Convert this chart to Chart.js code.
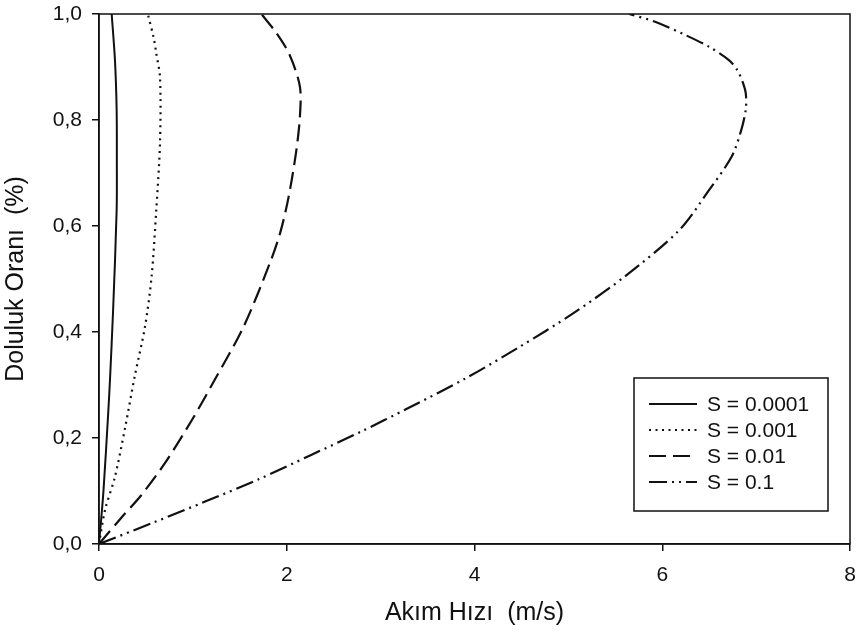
<!DOCTYPE html>
<html>
<head>
<meta charset="utf-8">
<script src="https://cdn.jsdelivr.net/npm/chart.js@4.4.0/dist/chart.umd.min.js"></script>
<style>
  body { margin: 0; background: #fff; }
  #wrap { width: 864px; height: 634px; position: relative; }
</style>
</head>
<body>
<div id="wrap"><canvas id="myChart" width="864" height="634"></canvas></div>
<script>
// values (x = velocity m/s, y = fill ratio)
const labels = ["S = 0.0001", "S = 0.001", "S = 0.01", "S = 0.1"];

const speedA = [0, 0.046, 0.10, 0.117, 0.15, 0.188, 0.19, 0.188, 0.17, 0.135];
const fillA  = [0, 0.096, 0.253, 0.31, 0.44, 0.63, 0.72, 0.819, 0.913, 1.0];

const speedB = [0, 0.064, 0.17, 0.28, 0.38, 0.49, 0.56, 0.61, 0.65, 0.65, 0.61, 0.58, 0.52];
const fillB  = [0, 0.064, 0.127, 0.221, 0.316, 0.41, 0.504, 0.63, 0.757, 0.88, 0.926, 0.957, 1.0];

const speedC = [0, 0.24, 0.45, 0.70, 0.99, 1.23, 1.54, 1.82, 1.93, 2.02, 2.10, 2.14, 2.14, 2.03, 1.89, 1.73];
const fillC  = [0, 0.05, 0.092, 0.152, 0.234, 0.309, 0.41, 0.53, 0.587, 0.655, 0.74, 0.806, 0.863, 0.923, 0.964, 1.0];

const speedD = [0, 0.56, 1.13, 1.70, 2.26, 2.79, 3.29, 3.91, 4.48, 5.05, 5.61, 6.18, 6.5, 6.74, 6.84, 6.89, 6.89, 6.86, 6.8, 6.71, 6.5, 6.25, 5.93, 5.65];
const fillD  = [0, 0.039, 0.08, 0.122, 0.168, 0.212, 0.256, 0.313, 0.372, 0.435, 0.506, 0.592, 0.668, 0.731, 0.78, 0.82, 0.85, 0.87, 0.894, 0.913, 0.938, 0.96, 0.985, 1.0];

const xTicks = [0, 2, 4, 6, 8];
const yTicks = [0, 0.2, 0.4, 0.6, 0.8, 1.0];

const pts = (xs, ys) => xs.map((v, i) => ({ x: v, y: ys[i] }));

const FONT = "'Liberation Sans', Arial, sans-serif";

// frame + legend box drawn inside the plot
const framePlugin = {
  id: 'frame',
  afterDraw(chart) {
    const { ctx, chartArea: a } = chart;
    ctx.save();
    ctx.strokeStyle = '#111';
    ctx.lineWidth = 1.5;
    ctx.strokeRect(a.left, a.top, a.right - a.left, a.bottom - a.top);

    // legend
    const bx = 634, by = 378, bw = 194, bh = 133;
    ctx.fillStyle = '#fff';
    ctx.fillRect(bx, by, bw, bh);
    ctx.strokeRect(bx, by, bw, bh);
    ctx.font = '21px ' + FONT;
    ctx.textBaseline = 'middle';
    chart.data.datasets.forEach((ds, i) => {
      const y = 404 + i * 26;
      ctx.beginPath();
      ctx.setLineDash(ds.borderDash || []);
      ctx.lineWidth = ds.borderWidth;
      ctx.moveTo(649, y);
      ctx.lineTo(697, y);
      ctx.stroke();
      ctx.setLineDash([]);
      ctx.fillStyle = '#111';
      ctx.fillText(ds.label, 707, y + 1);
    });
    ctx.restore();
  }
};

const ctx = document.getElementById('myChart').getContext('2d');
const myChart = new Chart(ctx, {
  type: 'scatter',
  data: {
    datasets: [
      { label: labels[0], data: pts(speedA, fillA), borderDash: [], borderWidth: 2 },
      { label: labels[1], data: pts(speedB, fillB), borderDash: [2, 4.5], borderWidth: 2.2 },
      { label: labels[2], data: pts(speedC, fillC), borderDash: [17, 7], borderWidth: 2.2 },
      { label: labels[3], data: pts(speedD, fillD), borderDash: [18, 5, 2, 5, 2, 5], borderWidth: 2.2 },
    ].map(d => Object.assign(d, {
      showLine: true,
      borderColor: '#111',
      backgroundColor: '#111',
      pointRadius: 0,
      tension: 0.3,
      fill: false,
    }))
  },
  options: {
    responsive: false,
    animation: false,
    layout: { padding: { top: 14, right: 14, left: 0, bottom: 0 } },
    plugins: {
      legend: { display: false },
      tooltip: { enabled: false },
    },
    scales: {
      x: {
        type: 'linear',
        min: 0, max: 8,
        afterBuildTicks: s => { s.ticks = xTicks.map(v => ({ value: v })); },
        afterFit: s => { s.height = 90; s.paddingLeft = 0; s.paddingRight = 0; },
        grid: { drawOnChartArea: false, color: '#111', tickLength: 7, lineWidth: 1.5 },
        border: { color: '#111', width: 1.5 },
        ticks: { color: '#111', padding: 12, font: { family: FONT, size: 21 }, maxRotation: 0 },
        title: {
          display: true, text: 'Akım Hızı  (m/s)', color: '#111',
          font: { family: FONT, size: 25 }, padding: { top: 4, bottom: 6 }
        }
      },
      y: {
        type: 'linear',
        min: 0, max: 1,
        afterBuildTicks: s => { s.ticks = yTicks.map(v => ({ value: v })); },
        afterFit: s => { s.width = 99; s.paddingTop = 0; s.paddingBottom = 0; },
        grid: { drawOnChartArea: false, color: '#111', tickLength: 7, lineWidth: 1.5 },
        border: { color: '#111', width: 1.5 },
        ticks: {
          color: '#111', padding: 10, font: { family: FONT, size: 21 },
          callback: v => v.toFixed(1).replace('.', ',')
        },
        title: {
          display: true, text: 'Doluluk Oranı  (%)', color: '#111',
          font: { family: FONT, size: 25 }, padding: { top: 1, bottom: 4 }
        }
      }
    }
  },
  plugins: [framePlugin]
});
</script>
</body>
</html>
